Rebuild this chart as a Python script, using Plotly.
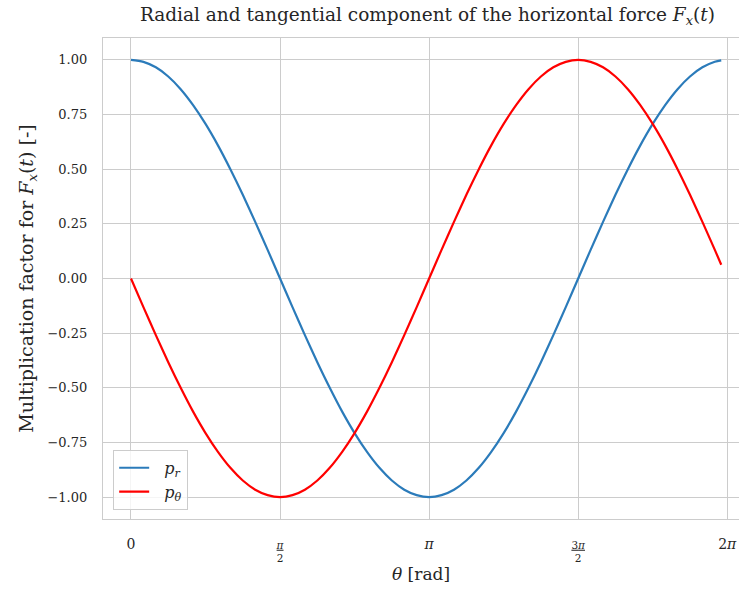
import plotly.graph_objects as go

# theta samples [rad], every 7.5 degrees, last sample at ~6.22 rad
theta = [0.0000, 0.1309, 0.2618, 0.3927, 0.5236, 0.6545, 0.7854, 0.9163, 1.0472,
         1.1781, 1.3090, 1.4399, 1.5708, 1.7017, 1.8326, 1.9635, 2.0944, 2.2253,
         2.3562, 2.4871, 2.6180, 2.7489, 2.8798, 3.0107, 3.1416, 3.2725, 3.4034,
         3.5343, 3.6652, 3.7961, 3.9270, 4.0579, 4.1888, 4.3197, 4.4506, 4.5815,
         4.7124, 4.8433, 4.9742, 5.1051, 5.2360, 5.3669, 5.4978, 5.6287, 5.7596,
         5.8905, 6.0214, 6.1523, 6.2200]
# radial component p_r
p_r = [1.000, 0.991, 0.966, 0.924, 0.866, 0.793, 0.707, 0.609, 0.500, 0.383,
       0.259, 0.131, 0.000, -0.131, -0.259, -0.383, -0.500, -0.609, -0.707,
       -0.793, -0.866, -0.924, -0.966, -0.991, -1.000, -0.991, -0.966, -0.924,
       -0.866, -0.793, -0.707, -0.609, -0.500, -0.383, -0.259, -0.131, 0.000,
       0.131, 0.259, 0.383, 0.500, 0.609, 0.707, 0.793, 0.866, 0.924, 0.966,
       0.991, 0.998]
# tangential component p_theta
p_theta = [0.000, -0.131, -0.259, -0.383, -0.500, -0.609, -0.707, -0.793, -0.866,
           -0.924, -0.966, -0.991, -1.000, -0.991, -0.966, -0.924, -0.866, -0.793,
           -0.707, -0.609, -0.500, -0.383, -0.259, -0.131, 0.000, 0.131, 0.259,
           0.383, 0.500, 0.609, 0.707, 0.793, 0.866, 0.924, 0.966, 0.991, 1.000,
           0.991, 0.966, 0.924, 0.866, 0.793, 0.707, 0.609, 0.500, 0.383, 0.259,
           0.131, 0.063]

x_tickvals = [0, 1.5708, 3.1416, 4.7124, 6.2832]
x_ticktext = ["<span style='font-size:14px'>0</span>",
              "<u><i>π</i></u><br>2",
              "<span style='font-size:14px'><i>π</i></span>",
              "<u>3<i>π</i></u><br>2",
              "<span style='font-size:14px'>2<i>π</i></span>"]
y_tickvals = [-1.0, -0.75, -0.5, -0.25, 0.0, 0.25, 0.5, 0.75, 1.0]
y_ticktext = ["−1.00", "−0.75", "−0.50", "−0.25", "0.00", "0.25", "0.50", "0.75", "1.00"]

BLUE = "#2b7bba"
RED = "#ff0000"
GRID = "#cccccc"
TXT = "#262626"
FONT = "DejaVu Serif"
NB = "\u00a0\u00a0"

fig = go.Figure()
fig.add_trace(go.Scatter(x=theta, y=p_r, mode="lines", name=NB + "<i>p<sub>r</sub></i>",
                         line=dict(color=BLUE, width=2.2, shape="spline", smoothing=0.8)))
fig.add_trace(go.Scatter(x=theta, y=p_theta, mode="lines", name=NB + "<i>p<sub>θ</sub></i>",
                         line=dict(color=RED, width=2.2, shape="spline", smoothing=0.8)))

fig.update_layout(
    width=739, height=592,
    margin=dict(l=103, r=0, t=38, b=73),
    plot_bgcolor="white", paper_bgcolor="white",
    font=dict(family=FONT, color=TXT, size=13),
    title=dict(text="Radial and tangential component of the horizontal force <i>F<sub>x</sub></i>(<i>t</i>)",
               x=0.51, xref="paper", xanchor="center", y=0.975, yref="container", yanchor="middle",
               font=dict(size=18.5, family=FONT, color=TXT)),
    showlegend=True,
    legend=dict(x=0.016, y=0.019, xanchor="left", yanchor="bottom",
                bgcolor="rgba(255,255,255,0.8)", bordercolor=GRID, borderwidth=1,
                font=dict(size=16, family=FONT, color=TXT), tracegroupgap=2),
)
fig.update_xaxes(range=[-0.295, 6.407], tickvals=x_tickvals, ticktext=x_ticktext,
                 showgrid=True, gridcolor=GRID, gridwidth=1, zeroline=False,
                 showline=True, linecolor=GRID, linewidth=1.25, mirror=True,
                 ticks="", ticklabelstandoff=16, tickfont=dict(size=10.5),
                 title=dict(text="<i>θ</i> [rad]", font=dict(size=17), standoff=4))
fig.update_yaxes(range=[-1.1, 1.1], tickvals=y_tickvals, ticktext=y_ticktext,
                 showgrid=True, gridcolor=GRID, gridwidth=1, zeroline=False,
                 showline=True, linecolor=GRID, linewidth=1.25, mirror=False,
                 ticks="", ticklabelstandoff=12, tickfont=dict(size=13),
                 title=dict(text="Multiplication factor for <i>F<sub>x</sub></i>(<i>t</i>) [-]",
                            font=dict(size=19), standoff=8))

fig.write_html("out.html")
